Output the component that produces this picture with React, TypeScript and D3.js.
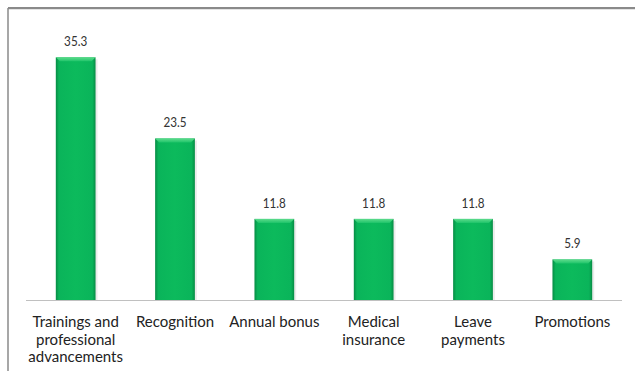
import React from "react";
import * as d3 from "d3";

const categories: string[][] = [
  ["Trainings and", "professional", "advancements"],
  ["Recognition"],
  ["Annual bonus"],
  ["Medical", "insurance"],
  ["Leave", "payments"],
  ["Promotions"],
];
const values: number[] = [35.3, 23.5, 11.8, 11.8, 11.8, 5.9];
const valueLabels: string[] = ["35.3", "23.5", "11.8", "11.8", "11.8", "5.9"];

const W = 635;
const H = 371;

export default function App() {
  const x = d3
    .scaleBand<number>()
    .domain(values.map((_, i) => i))
    .range([26, 622])
    .paddingInner(0.6)
    .paddingOuter(0.3);
  const y = d3.scaleLinear().domain([0, 40]).range([300, 25]);
  const font = "Lato, 'Open Sans', sans-serif";
  return (
    <div style={{ position: "absolute", left: 0, top: 0 }}>
      <svg width={W} height={H} style={{ display: "block" }}>
        <defs>
          <linearGradient id="barH" x1="0" x2="1" y1="0" y2="0">
            <stop offset="0" stopColor="#078c45" />
            <stop offset="0.08" stopColor="#0ab45a" />
            <stop offset="0.5" stopColor="#0cba5c" />
            <stop offset="0.92" stopColor="#0ab45a" />
            <stop offset="1" stopColor="#078c45" />
          </linearGradient>
          <linearGradient id="barTop" x1="0" x2="0" y1="0" y2="1">
            <stop offset="0" stopColor="#5edc8c" />
            <stop offset="1" stopColor="#1fc46a" />
          </linearGradient>
        </defs>
        <rect x={0} y={0} width={W} height={H} fill="#fff" />
        <line x1={8} x2={W} y1={8} y2={8} stroke="#8a8a8a" strokeWidth={2} />
        <line x1={8} x2={W} y1={9.5} y2={9.5} stroke="#e4e4e4" strokeWidth={1} />
        <line x1={8} x2={8} y1={8} y2={H} stroke="#8a8a8a" strokeWidth={1.5} />
        <line x1={26} x2={622} y1={300.5} y2={300.5} stroke="#c0c0c0" strokeWidth={1} />
        {values.map((v, i) => {
          const bx = x(i)!;
          const bw = x.bandwidth();
          const by = y(v);
          const bh = y(0) - by;
          const cx = bx + bw / 2;
          return (
            <g key={i}>
              <rect x={bx + 2} y={by + 2} width={bw} height={bh - 2} fill="#000" opacity={0.08} />
              <rect x={bx} y={by} width={bw} height={bh} fill="url(#barH)" />
              <polygon
                points={`${bx},${by} ${bx + bw},${by} ${bx + bw - 4},${by + 4} ${bx + 4},${by + 4}`}
                fill="url(#barTop)"
              />
              <g transform={`translate(${cx},${by - 11}) scale(0.9,1)`}>
                <text
                  x={0}
                  y={0}
                  textAnchor="middle"
                  fontFamily={font}
                  fontSize={13}
                  fill="#333"
                >
                  {valueLabels[i]}
                </text>
              </g>
              {categories[i].map((line, j) => (
                <text
                  key={j}
                  x={cx}
                  y={327 + j * 17.5}
                  textAnchor="middle"
                  fontFamily={font}
                  fontSize={15}
                  fill="#222"
                >
                  {line}
                </text>
              ))}
            </g>
          );
        })}
      </svg>
    </div>
  );
}
